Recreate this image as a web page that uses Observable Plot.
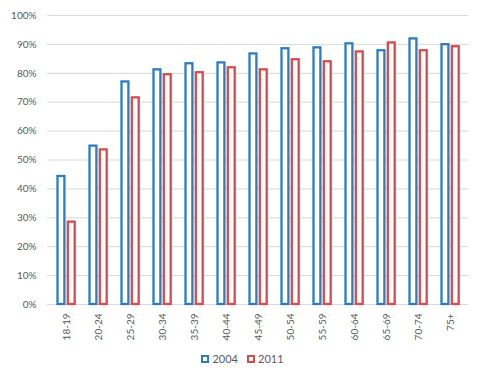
<!DOCTYPE html>
<html>
<head>
<meta charset="utf-8">
<script src="https://cdn.jsdelivr.net/npm/d3@7"></script>
<script src="https://cdn.jsdelivr.net/npm/@observablehq/plot@0.6"></script>
<style>
  html, body { margin: 0; padding: 0; background: #fff; }
  #chart { width: 482px; }
  .legend { display: flex; justify-content: center; align-items: center; gap: 9px;
    font-family: Lato, "Open Sans", sans-serif; font-size: 11px; color: #595959; margin-top: 7px; padding-left: 3px; }
  .legend span.item { display: inline-flex; align-items: center; gap: 3px; }
  .legend i { display: inline-block; width: 4px; height: 4px; border: 2px solid; box-sizing: content-box; }
</style>
</head>
<body>
<div id="chart"></div>
<script>
const ageGroups = ["18-19","20-24","25-29","30-34","35-39","40-44","45-49","50-54","55-59","60-64","65-69","70-74","75+"];
const values2004 = [44.3, 54.8, 77.0, 81.2, 83.3, 83.6, 86.7, 88.5, 88.8, 90.2, 87.8, 91.9, 89.9];
const values2011 = [28.5, 53.5, 71.5, 79.5, 80.2, 81.9, 81.2, 84.7, 84.0, 87.4, 90.5, 87.8, 89.2];
const seriesNames = ["2004", "2011"];
const seriesColors = ["#2A7DC0", "#D94B4B"];
const yTicks = [0,10,20,30,40,50,60,70,80,90,100];

const rows = [];
ageGroups.forEach((a, i) => {
  rows.push({age: a, series: seriesNames[0], value: values2004[i] / 100});
  rows.push({age: a, series: seriesNames[1], value: values2011[i] / 100});
});

const font = "Lato, 'Open Sans', sans-serif";
const chart = Plot.plot({
  width: 482,
  height: 345,
  marginLeft: 47,
  marginRight: 14,
  marginTop: 15,
  marginBottom: 41,
  style: {fontFamily: font, fontSize: "10px", color: "#595959", background: "#fff"},
  x: {domain: ageGroups, padding: 0, label: null, tickSize: 0, tickPadding: 9, tickRotate: -90},
  y: {domain: [0, 1], ticks: yTicks.map(d => d / 100), tickFormat: d3.format(".0%"), label: null, tickSize: 0, tickPadding: 11},
  color: {domain: seriesNames, range: seriesColors},
  marks: [
    Plot.gridY(yTicks.map(d => d / 100), {stroke: "#d9d9d9", strokeOpacity: 1, strokeWidth: 1}),
    Plot.barY(rows.filter(d => d.series === "2004"), {
      x: "age", y: "value", fill: "white", stroke: "series", strokeWidth: 2.3,
      insetLeft: 7.5, insetRight: 17.6
    }),
    Plot.barY(rows.filter(d => d.series === "2011"), {
      x: "age", y: "value", fill: "white", stroke: "series", strokeWidth: 2.3,
      insetLeft: 17.8, insetRight: 7.3
    })
  ]
});
document.getElementById("chart").appendChild(chart);

const legend = document.createElement("div");
legend.className = "legend";
seriesNames.forEach((s, i) => {
  const item = document.createElement("span");
  item.className = "item";
  const sw = document.createElement("i");
  sw.style.borderColor = seriesColors[i];
  item.appendChild(sw);
  item.appendChild(document.createTextNode(s));
  legend.appendChild(item);
});
document.getElementById("chart").appendChild(legend);
</script>
</body>
</html>
